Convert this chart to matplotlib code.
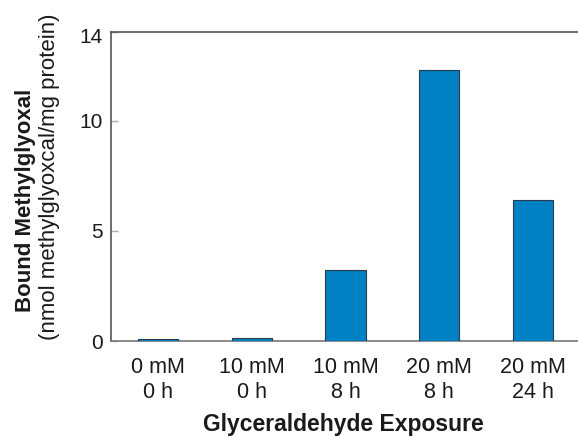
import matplotlib
matplotlib.use("Agg")
import matplotlib.pyplot as plt
from matplotlib.transforms import ScaledTranslation

categories = ["0 mM\n0 h", "10 mM\n0 h", "10 mM\n8 h", "20 mM\n8 h", "20 mM\n24 h"]
values = [0.09, 0.17, 3.23, 12.31, 6.42]
yticks = [0, 5, 10, 14]

plt.rcParams['font.family'] = ['Liberation Sans', 'DejaVu Sans']

fig = plt.figure(figsize=(5.78, 4.37), dpi=100)
ax = fig.add_axes([111/578, (437-341.3)/437, (580-111)/578, (341.3-32.3)/437])

x = list(range(len(categories)))
ax.bar(x, values, width=0.43, color='#0081C4', edgecolor='#2b3a48', linewidth=0.8, zorder=3)

ax.set_xlim(-0.5, 4.5)
ax.set_ylim(0, 14)
ax.set_yticks(yticks)
ax.set_yticklabels([str(t) for t in yticks], fontsize=15, color='#1a1a1a')
ax.set_xticks(x)
ax.set_xticklabels(categories, fontsize=15.5, color='#1a1a1a', linespacing=1.25)
ax.tick_params(axis='y', direction='in', length=5, width=1, color='#aaaaaa', pad=6)
ax.tick_params(axis='x', length=0, pad=11)

# top tick label sits slightly below its tick in the reference
top_lbl = ax.get_yticklabels()[-1]
top_lbl.set_transform(top_lbl.get_transform() + ScaledTranslation(0, -3/100, fig.dpi_scale_trans))

for s in ['left', 'top', 'right']:
    ax.spines[s].set_color('#555555')
    ax.spines[s].set_linewidth(1.2)
ax.spines['bottom'].set_color('#777777')
ax.spines['bottom'].set_linewidth(1.2)

fig.text(343/578, 1 - 431/437, "Glyceraldehyde Exposure", fontsize=16.5, fontweight='bold',
         ha='center', va='baseline', color='#1a1a1a')
fig.text(25.3/578, 1 - 200/437, "Bound Methylglyoxal", fontsize=16, fontweight='bold',
         rotation=90, ha='center', va='center', color='#1a1a1a')
fig.text(49.5/578, 1 - 177/437, "(nmol methylglyoxcal/mg protein)", fontsize=16,
         rotation=90, ha='center', va='center', color='#1a1a1a')

fig.savefig("out.png", dpi=100)
